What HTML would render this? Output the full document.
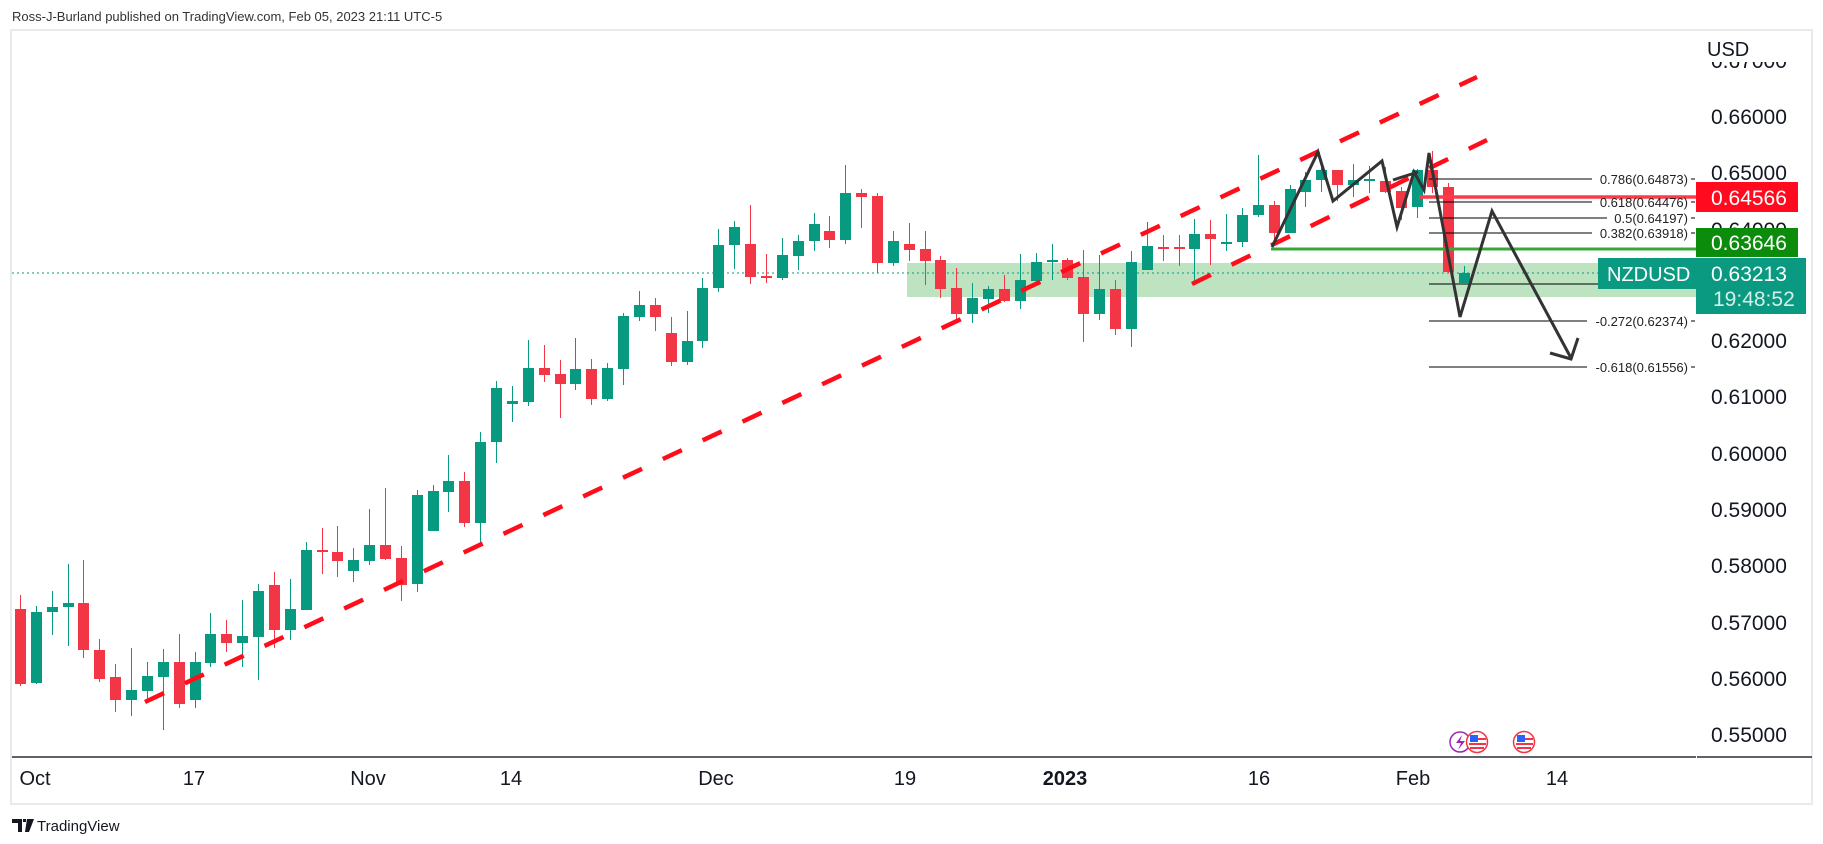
<!DOCTYPE html>
<html><head><meta charset="utf-8"><style>
html,body{margin:0;padding:0;background:#fff;}
svg{display:block;font-family:"Liberation Sans",sans-serif;}
</style></head><body>
<svg id="s" width="1823" height="844" viewBox="0 0 1823 844" xmlns="http://www.w3.org/2000/svg">
<defs><clipPath id="pc"><rect x="1697" y="62" width="115" height="700"/></clipPath></defs>
<rect width="1823" height="844" fill="#fff"/>
<text x="12" y="21" font-size="13" fill="#333">Ross-J-Burland published on TradingView.com, Feb 05, 2023 21:11 UTC-5</text>
<rect x="11" y="30" width="1801" height="774" fill="none" stroke="#e9eaef" stroke-width="2"/>
<!-- green zone -->
<rect x="907" y="263" width="789" height="34" fill="#bde3c0"/>
<!-- dotted current price -->
<line x1="12" y1="273" x2="1696" y2="273" stroke="#089981" stroke-width="1" stroke-dasharray="2 3"/>
<g id="candles"></g>
<!-- red dashed lines -->
<line x1="145" y1="702" x2="1477" y2="77" stroke="#ff0d1a" stroke-width="4.5" stroke-dasharray="21 23"/>
<line x1="1192" y1="284" x2="1487" y2="140" stroke="#ff0d1a" stroke-width="4.5" stroke-dasharray="21 23"/>
<!-- horizontal lines -->
<line x1="1271" y1="249" x2="1696" y2="249" stroke="#3aa63a" stroke-width="3"/>
<line x1="1419" y1="197" x2="1696" y2="197" stroke="#ff3a48" stroke-width="3.5"/>
<!-- fib -->
<g stroke="#000" stroke-width="1">
<line x1="1429" y1="179" x2="1592" y2="179"/>
<line x1="1429" y1="202" x2="1592" y2="202"/>
<line x1="1429" y1="218" x2="1607" y2="218"/>
<line x1="1429" y1="233" x2="1592" y2="233"/>
<line x1="1429" y1="284" x2="1600" y2="284"/>
<line x1="1429" y1="321" x2="1587" y2="321"/>
<line x1="1429" y1="367" x2="1587" y2="367"/>
<line x1="1691" y1="179" x2="1695" y2="179"/><line x1="1691" y1="202" x2="1695" y2="202"/>
<line x1="1691" y1="218" x2="1695" y2="218"/><line x1="1691" y1="233" x2="1695" y2="233"/>
<line x1="1691" y1="321" x2="1695" y2="321"/><line x1="1691" y1="367" x2="1695" y2="367"/>
</g>
<g font-size="13" fill="#222" text-anchor="end">
<text x="1688" y="184">0.786(0.64873)</text>
<text x="1688" y="207">0.618(0.64476)</text>
<text x="1688" y="223">0.5(0.64197)</text>
<text x="1688" y="238">0.382(0.63918)</text>
<text x="1688" y="326">-0.272(0.62374)</text>
<text x="1688" y="372">-0.618(0.61556)</text>
</g>
<!-- zigzag -->
<polyline points="1094,247 1130,180 1140,152 1156,201 1190,161 1205,226 1216,172 1232,190 1237,153 1260,317 1292,211 1358,358" fill="none" stroke="#333" stroke-width="3" transform="translate(0,0)" visibility="hidden"/>
<polyline points="1272,247 1318,152 1333,201 1382,161 1397,227 1414,172 1424,190 1429,153 1460,317 1492,211 1571,358" fill="none" stroke="#333" stroke-width="3" stroke-linejoin="miter"/>
<line x1="1393" y1="180" x2="1418" y2="172" stroke="#333" stroke-width="3"/>
<polyline points="1550,353 1571,359 1578,338" fill="none" stroke="#333" stroke-width="3"/>
<!-- axes -->
<line x1="12" y1="757" x2="1696" y2="757" stroke="#2a2e39" stroke-width="1.5"/>
<line x1="1697" y1="757" x2="1812" y2="757" stroke="#2a2e39" stroke-width="1.5"/>
<g font-size="20" fill="#131722" text-anchor="middle">
<text x="35" y="785">Oct</text><text x="194" y="785">17</text><text x="368" y="785">Nov</text>
<text x="511" y="785">14</text><text x="716" y="785">Dec</text><text x="905" y="785">19</text>
<text x="1065" y="785" font-weight="bold">2023</text><text x="1259" y="785">16</text>
<text x="1413" y="785">Feb</text><text x="1557" y="785">14</text>
</g>
<text x="1707" y="56" font-size="20" fill="#131722">USD</text>
<g font-size="21" fill="#131722" clip-path="url(#pc)">
<text x="1711" y="68">0.67000</text>
<text x="1711" y="124">0.66000</text><text x="1711" y="180">0.65000</text><text x="1711" y="237">0.64000</text>
<text x="1711" y="348">0.62000</text><text x="1711" y="404">0.61000</text><text x="1711" y="461">0.60000</text>
<text x="1711" y="517">0.59000</text><text x="1711" y="573">0.58000</text><text x="1711" y="630">0.57000</text>
<text x="1711" y="686">0.56000</text><text x="1711" y="742">0.55000</text>
</g>
<!-- price boxes -->
<rect x="1696" y="182" width="102" height="30" fill="#ff0a1e"/>
<text x="1711" y="205" font-size="21" fill="#fff">0.64566</text>
<rect x="1696" y="228" width="102" height="29" fill="#0b8c0b"/>
<text x="1711" y="250" font-size="21" fill="#fff">0.63646</text>
<rect x="1598" y="258" width="98" height="31" fill="#0a9981"/>
<text x="1607" y="281" font-size="20" fill="#fff">NZDUSD</text>
<rect x="1696" y="258" width="110" height="56" fill="#0a9981"/>
<text x="1711" y="281" font-size="21" fill="#fff">0.63213</text>
<text x="1713" y="306" font-size="21" fill="#d5efe9">19:48:52</text>
<!-- event icons -->
<circle cx="1460" cy="742" r="10" fill="#fff" stroke="#9c27b0" stroke-width="1.5"/>
<path d="M1462 735 L1456 743 L1461 743 L1458 750 L1465 741 L1460 741 Z" fill="#9c27b0"/>
<g id="flag1"><circle cx="1477" cy="742" r="10.5" fill="#fff" stroke="#f23645" stroke-width="1.5"/>
<rect x="1470" y="735" width="8" height="7" fill="#2962ff"/>
<rect x="1478" y="738" width="8" height="2" fill="#f23645"/><rect x="1469" y="743" width="17" height="2" fill="#f23645"/><rect x="1470" y="747" width="14" height="2" fill="#f23645"/></g>
<circle cx="1524" cy="742" r="10.5" fill="#fff" stroke="#f23645" stroke-width="1.5"/>
<rect x="1517" y="735" width="8" height="7" fill="#2962ff"/>
<rect x="1525" y="738" width="8" height="2" fill="#f23645"/><rect x="1516" y="743" width="17" height="2" fill="#f23645"/><rect x="1517" y="747" width="14" height="2" fill="#f23645"/>
<!-- logo -->
<path d="M12 819 h10 v13 h-4 v-9 h-6 z M23 819 h3 v3 h-3 z M27 819 h7 l-5 13 h-4 z" fill="#131722"/>
<text x="37" y="831" font-size="15" fill="#131722">TradingView</text>
</svg>
<script>
var d=[
"r 609 684 595 686","g 683 612 606 684","g 612 607 591 635","g 607 603 564 646","r 603 650 560 658",
"r 650 679 639 682","r 677 700 664 712","g 700 690 648 716","g 691 676 662 700","g 677 662 649 730",
"r 662 704 634 708","g 700 662 652 708","g 663 634 613 667","r 634 643 620 652","g 643 636 600 667",
"g 637 591 584 680","r 585 630 572 648","g 630 609 579 640","g 610 550 542 610","r 550 552 528 574",
"r 552 561 526 577","g 571 560 548 582","g 561 545 509 565","r 545 559 488 560","r 558 585 546 601",
"g 584 495 490 592","g 531 491 485 531","g 492 481 455 512","r 481 523 472 527","g 523 442 432 544",
"g 442 388 381 463","g 404 401 386 422","g 402 368 340 406","r 368 375 345 382","r 374 384 360 418",
"g 384 369 338 390","r 369 399 359 405","g 399 368 363 401","g 369 316 313 385","g 317 305 291 321",
"r 305 317 298 331","r 333 362 317 366","g 362 341 311 365","g 341 288 278 348","g 288 245 229 292",
"g 245 227 221 269","r 244 277 205 284","r 276 277 254 283","g 278 255 238 280","g 256 241 235 270",
"g 241 224 213 251","r 231 240 216 248","g 240 193 165 244","r 193 197 189 228","r 196 263 193 273",
"g 263 241 231 266","r 244 250 223 261","r 249 261 231 285","r 260 289 256 298","r 288 314 268 320",
"g 314 298 283 323","g 299 289 286 313","r 289 301 275 302","g 301 280 254 309","g 281 262 253 286",
"g 262 260 244 280","r 260 278 258 280","r 277 314 250 342","g 314 289 255 320","r 289 329 280 335",
"g 329 262 251 347","g 270 246 222 270","r 247 248 235 261","r 247 249 235 266","g 249 234 219 285",
"r 234 239 220 265","g 243 242 214 251","g 242 215 208 247","g 215 205 155 217","r 205 233 201 243",
"g 233 189 185 233","g 192 180 172 207","g 180 170 163 192","r 170 185 170 201","g 185 180 164 197",
"g 180 179 166 193","r 181 192 167 193","r 191 208 187 220","g 207 170 169 218","r 170 187 151 193",
"r 187 272 183 273","g 283 273 266 283"];
var ns="http://www.w3.org/2000/svg",g=document.getElementById("candles");
d.forEach(function(s,i){var p=s.split(" "),col=p[0]=="g"?"#089981":"#f23645",o=+p[1],c=+p[2],h=+p[3],l=+p[4];
var x=Math.round(20+15.87*i);
var w=document.createElementNS(ns,"rect");w.setAttribute("x",x);w.setAttribute("y",h);w.setAttribute("width",1);w.setAttribute("height",Math.max(1,l-h));w.setAttribute("fill",col);g.appendChild(w);
var b=document.createElementNS(ns,"rect");b.setAttribute("x",x-5);b.setAttribute("y",Math.min(o,c));b.setAttribute("width",11);b.setAttribute("height",Math.max(2,Math.abs(o-c)));b.setAttribute("fill",col);g.appendChild(b);});
</script>
</body></html>
